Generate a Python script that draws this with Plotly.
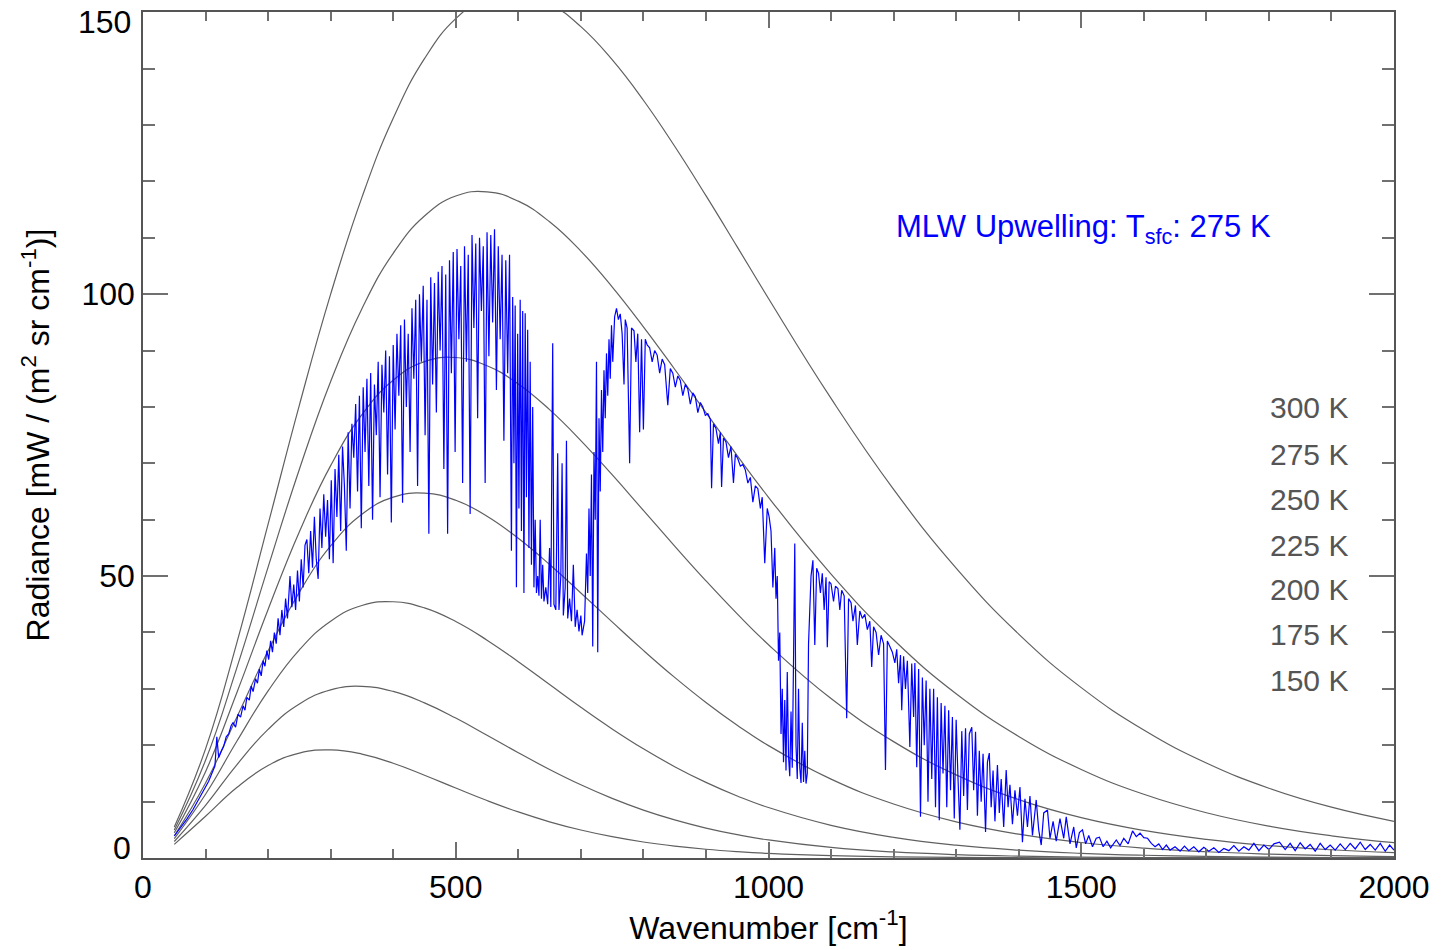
import plotly.graph_objects as go

# Blackbody (Planck) curves, mW / (m2 sr cm-1)
wn_bb = [50, 100, 150, 200, 250, 300, 350, 400, 450, 500, 550, 600, 650, 700, 750,
         800, 850, 900, 950, 1000, 1100, 1200, 1300, 1400, 1500, 1600, 1700, 1800, 1900, 2000]
bb300 = [5.49, 19.35, 38.17, 59.20, 80.33, 100.0, 117.18, 131.20, 141.77, 148.87, 152.65, 153.40,
         151.52, 147.45, 141.59, 134.40, 126.24, 117.47, 108.39, 99.24, 81.51, 65.38, 51.40, 39.71,
         30.22, 22.70, 16.85, 12.38, 9.01, 6.51]
bb275 = [4.98, 17.33, 33.72, 51.58, 68.96, 84.52, 97.43, 107.25, 113.86, 117.41, 118.16, 116.50,
         112.84, 107.64, 101.31, 94.21, 86.69, 79.00, 71.38, 63.98, 50.36, 38.70, 29.13, 21.56,
         15.71, 11.30, 8.03, 5.65, 3.94, 2.72]
bb250 = [4.47, 15.31, 29.32, 44.08, 57.87, 69.59, 78.62, 84.75, 88.04, 88.77, 87.31, 84.08,
         79.52, 74.04, 67.98, 61.66, 55.33, 49.16, 43.30, 37.83, 28.28, 20.64, 14.75, 10.36,
         7.16, 4.89, 3.30, 2.20, 1.46, 0.96]
bb225 = [3.95, 13.30, 24.97, 36.75, 47.16, 55.35, 60.97, 64.01, 64.71, 63.45, 60.63, 56.70,
         52.05, 47.01, 41.87, 36.82, 32.03, 27.58, 23.54, 19.93, 13.99, 9.58, 6.42, 4.23,
         2.75, 1.76, 1.11, 0.70, 0.43, 0.27]
bb200 = [3.44, 11.31, 20.70, 29.63, 36.92, 42.01, 44.79, 45.45, 44.36, 41.95, 38.64, 34.81,
         30.76, 26.73, 22.90, 19.37, 16.20, 13.41, 11.00, 8.95, 5.80, 3.67, 2.27, 1.38,
         0.83, 0.49, 0.29, 0.17, 0.09, 0.05]
bb175 = [2.93, 9.34, 16.53, 22.81, 27.32, 29.83, 30.45, 29.54, 27.52, 24.82, 21.77, 18.67,
         15.70, 12.98, 10.57, 8.50, 6.76, 5.31, 4.14, 3.20, 1.87, 1.07, 0.60, 0.33,
         0.18, 0.09, 0.05, 0.03, 0.01, 0.01]
bb150 = [2.42, 7.40, 12.50, 16.40, 18.61, 19.18, 18.43, 16.80, 14.68, 12.41, 10.19, 8.17,
         6.42, 4.96, 3.78, 2.84, 2.11, 1.55, 1.13, 0.81, 0.41, 0.21, 0.10, 0.05,
         0.02, 0.01, 0.005, 0.002, 0.001, 0.0004]

bb_labels = ["300 K", "275 K", "250 K", "225 K", "200 K", "175 K", "150 K"]

# MLW upwelling radiance spectrum (wavenumber, radiance)
blue_spectrum = [
    (50, 3.9), (60, 5.3), (70, 6.9), (80, 8.6), (90, 10.6), (100, 12.8), (105, 13.6), (110, 15.0),
    (115, 16.3), (118, 21.5), (121, 17.8), (125, 18.9), (129, 19.8), (133, 21.5), (137, 22.0), (141, 23.5),
    (144, 24.0), (148, 23.2), (152, 25.5), (156, 25.0), (160, 27.0), (163, 26.2), (166, 28.5), (170, 28.0),
    (173, 30.5), (176, 29.5), (180, 31.8), (183, 31.0), (186, 33.5), (189, 32.3), (192, 35.0), (195, 34.0),
    (198, 36.8), (201, 35.2), (204, 38.5), (207, 36.5), (210, 40.0), (213, 38.0), (216, 42.5), (219, 39.5),
    (222, 44.0), (225, 41.0), (228, 46.0), (231, 42.5), (235, 50.0), (238, 44.5), (241, 48.5), (244, 44.0),
    (247, 51.0), (250, 45.5), (253, 53.0), (256, 48.0), (259, 55.5), (262, 56.5), (265, 50.5), (268, 58.0),
    (271, 51.5), (274, 60.5), (277, 53.0), (280, 49.5), (283, 62.0), (286, 55.0), (289, 64.5), (292, 57.0),
    (295, 63.5), (298, 53.0), (301, 67.0), (304, 52.3), (307, 69.0), (310, 60.5), (313, 71.5), (316, 58.0),
    (319, 73.0), (322, 66.0), (325, 54.5), (328, 75.5), (331, 62.0), (334, 77.0), (337, 71.0), (340, 80.5),
    (343, 65.0), (346, 82.0), (349, 58.5), (352, 83.5), (355, 72.0), (358, 85.0), (361, 66.0), (364, 86.0),
    (367, 60.0), (370, 84.0), (373, 75.0), (376, 88.0), (379, 64.0), (382, 87.5), (385, 79.0), (388, 90.0),
    (391, 68.0), (394, 89.0), (397, 59.5), (400, 91.0), (403, 76.0), (406, 93.0), (409, 82.0), (412, 94.5),
    (415, 63.0), (418, 95.5), (421, 80.0), (424, 93.0), (427, 72.0), (430, 97.5), (433, 85.0), (436, 99.0),
    (439, 66.0), (442, 100.0), (445, 88.0), (448, 101.5), (451, 75.0), (454, 99.0), (457, 57.5), (460, 103.0),
    (463, 84.0), (466, 102.0), (469, 79.0), (472, 104.0), (475, 90.0), (478, 105.0), (481, 69.0), (484, 103.5),
    (487, 57.5), (490, 106.0), (493, 86.0), (496, 107.5), (499, 72.0), (502, 108.0), (505, 92.0), (508, 105.0),
    (511, 66.5), (514, 108.5), (517, 88.0), (520, 107.0), (523, 61.0), (526, 110.5), (529, 94.0), (532, 109.0),
    (535, 78.0), (538, 110.0), (541, 97.0), (544, 108.5), (547, 66.5), (550, 111.0), (553, 89.0), (556, 110.5),
    (559, 95.0), (562, 111.5), (565, 83.0), (568, 108.5), (571, 92.0), (574, 107.0), (577, 74.0), (580, 106.0),
    (583, 86.0), (586, 107.0), (589, 54.5), (591, 99.5), (593, 70.0), (595, 98.0), (597, 48.0), (599, 93.0),
    (601, 62.0), (603, 99.0), (605, 58.0), (607, 97.0), (609, 47.0), (611, 96.6), (613, 64.0), (615, 93.7),
    (617, 55.0), (619, 88.0), (621, 52.0), (623, 80.0), (625, 48.0), (627, 60.0), (629, 47.0), (631, 50.0),
    (633, 46.5), (635, 60.0), (637, 46.0), (639, 52.0), (641, 45.5), (644, 48.0), (647, 45.0), (650, 55.0),
    (652, 44.5), (655, 91.3), (657, 45.0), (660, 44.0), (663, 71.8), (665, 44.0), (668, 50.0), (670, 70.0),
    (672, 43.0), (675, 48.0), (677, 74.0), (679, 42.5), (682, 46.0), (685, 42.0), (688, 52.0), (691, 41.0),
    (694, 44.0), (697, 40.2), (700, 43.0), (702, 39.5), (704, 41.0), (706, 42.0), (709, 54.0), (711, 47.0),
    (713, 62.0), (715, 50.0), (717, 68.0), (719, 37.5), (721, 72.0), (723, 60.0), (725, 88.0), (727, 36.5),
    (729, 78.0), (731, 65.0), (733, 83.0), (735, 72.0), (737, 86.5), (739, 78.0), (741, 89.5), (743, 82.0),
    (745, 92.0), (747, 85.0), (749, 94.5), (751, 88.0), (754, 96.0), (757, 97.5), (760, 95.5), (763, 96.5),
    (766, 93.0), (769, 84.0), (771, 95.5), (774, 94.0), (778, 70.0), (781, 94.0), (785, 93.5), (788, 88.0),
    (791, 93.0), (794, 75.5), (797, 92.0), (800, 76.0), (803, 92.0), (806, 91.0), (810, 90.5), (814, 88.0),
    (818, 90.0), (822, 89.2), (826, 86.0), (830, 88.5), (834, 87.5), (839, 80.3), (843, 86.8), (847, 86.0),
    (851, 83.5), (855, 85.5), (859, 84.7), (863, 82.0), (867, 84.0), (871, 83.2), (875, 80.5), (879, 82.5),
    (883, 81.8), (887, 79.0), (891, 80.8), (895, 80.0), (899, 78.5), (903, 78.8), (907, 77.8), (909, 65.6),
    (912, 77.0), (916, 76.2), (920, 73.5), (923, 75.5), (925, 65.8), (928, 74.5), (932, 73.8), (936, 71.0),
    (940, 73.0), (944, 66.5), (947, 71.6), (951, 70.8), (955, 69.5), (959, 69.8), (963, 68.8), (967, 66.5),
    (971, 67.5), (975, 63.1), (979, 66.0), (983, 65.5), (987, 62.0), (990, 64.0), (994, 52.3), (998, 62.0),
    (1001, 60.5), (1004, 58.0), (1007, 48.0), (1010, 55.0), (1012, 46.0), (1014, 50.0), (1016, 35.0), (1018, 40.0),
    (1020, 22.0), (1022, 30.0), (1024, 17.0), (1026, 28.0), (1028, 15.5), (1030, 33.0), (1032, 18.0), (1034, 14.5),
    (1036, 26.0), (1038, 16.0), (1040, 35.0), (1042, 55.8), (1044, 20.0), (1046, 14.0), (1048, 30.0), (1050, 16.0),
    (1052, 13.3), (1054, 24.0), (1056, 13.5), (1058, 19.0), (1060, 13.2), (1062, 15.0), (1064, 38.0), (1066, 45.0),
    (1068, 50.0), (1071, 52.8), (1074, 37.8), (1077, 51.4), (1080, 50.5), (1083, 47.0), (1086, 50.5), (1089, 44.0),
    (1092, 49.8), (1094, 37.4), (1097, 49.0), (1100, 48.6), (1104, 45.5), (1107, 48.2), (1111, 47.8), (1114, 44.0),
    (1117, 47.5), (1121, 46.5), (1125, 24.8), (1128, 46.0), (1132, 45.3), (1135, 42.0), (1139, 44.8), (1142, 37.8),
    (1146, 43.8), (1150, 42.5), (1154, 43.2), (1158, 40.5), (1162, 42.0), (1165, 33.9), (1168, 41.0), (1172, 40.0),
    (1176, 36.0), (1180, 39.5), (1184, 38.0), (1187, 15.6), (1190, 38.5), (1194, 37.5), (1198, 36.5), (1202, 34.6),
    (1205, 37.0), (1208, 31.0), (1211, 36.0), (1213, 26.2), (1216, 35.8), (1219, 30.0), (1222, 35.0), (1226, 19.7),
    (1229, 34.5), (1232, 25.0), (1234, 34.6), (1237, 16.1), (1240, 33.5), (1243, 7.3), (1246, 32.0), (1249, 20.0),
    (1252, 31.5), (1255, 10.0), (1258, 30.0), (1261, 14.0), (1264, 30.0), (1267, 9.0), (1270, 28.5), (1273, 6.7),
    (1276, 27.5), (1279, 15.0), (1282, 27.0), (1285, 9.0), (1288, 26.2), (1291, 12.0), (1294, 25.0), (1297, 7.0),
    (1300, 24.5), (1303, 14.0), (1306, 5.0), (1309, 22.5), (1312, 11.0), (1315, 23.0), (1318, 8.5), (1321, 22.0),
    (1325, 23.2), (1328, 12.0), (1331, 22.4), (1334, 7.5), (1337, 19.0), (1340, 10.0), (1343, 18.5), (1347, 4.6),
    (1350, 17.0), (1353, 18.6), (1356, 9.0), (1359, 15.5), (1362, 6.5), (1366, 16.5), (1369, 8.0), (1372, 14.0),
    (1376, 5.5), (1380, 15.6), (1383, 9.0), (1386, 13.0), (1390, 6.0), (1394, 12.0), (1398, 7.5), (1402, 12.6),
    (1406, 2.8), (1410, 10.5), (1414, 5.5), (1418, 11.0), (1422, 4.0), (1428, 10.3), (1432, 5.0), (1436, 2.3),
    (1440, 8.0), (1446, 8.5), (1450, 3.5), (1455, 6.5), (1460, 3.0), (1466, 7.0), (1472, 3.5), (1476, 7.3),
    (1482, 2.5), (1488, 5.5), (1492, 1.8), (1497, 4.5), (1502, 5.0), (1507, 2.5), (1512, 4.0), (1518, 2.0),
    (1524, 3.5), (1529, 3.7), (1535, 2.0), (1541, 3.0), (1547, 1.8), (1556, 3.2), (1562, 2.2), (1568, 3.5),
    (1575, 2.5), (1582, 4.8), (1588, 3.8), (1594, 4.4), (1600, 3.6), (1606, 3.5), (1612, 2.6), (1618, 2.0),
    (1624, 2.5), (1630, 1.5), (1636, 2.3), (1642, 1.4), (1650, 2.0), (1658, 1.2), (1665, 2.1), (1672, 1.3),
    (1680, 2.0), (1688, 1.1), (1696, 1.9), (1704, 1.2), (1712, 1.8), (1720, 1.0), (1728, 1.7), (1736, 1.3),
    (1744, 2.2), (1752, 1.2), (1760, 2.0), (1768, 1.4), (1776, 2.6), (1784, 1.3), (1792, 2.3), (1800, 1.5),
    (1808, 2.5), (1817, 2.8), (1826, 1.5), (1834, 2.6), (1842, 1.3), (1850, 2.7), (1858, 1.6), (1866, 2.4),
    (1874, 1.2), (1882, 2.6), (1890, 1.5), (1898, 2.3), (1906, 1.4), (1914, 2.5), (1922, 1.5), (1930, 2.6),
    (1938, 1.6), (1946, 2.8), (1954, 1.5), (1962, 2.4), (1970, 1.4), (1978, 2.6), (1986, 1.2), (1993, 2.3),
    (2000, 1.4),
]

x_ticks = [0, 500, 1000, 1500, 2000]
y_ticks = [0, 50, 100, 150]
y_ticktext = ["", "50", "100", ""]     # end labels drawn separately, nudged inward as in the reference
y_end_labels = [("0", 0.0118), ("150", 0.988)]

FONT = "Liberation Sans, Arial, Helvetica, sans-serif"
GRAY = "#555555"

fig = go.Figure()

for series in [bb300, bb275, bb250, bb225, bb200, bb175, bb150]:
    fig.add_trace(go.Scatter(
        x=wn_bb, y=series, mode="lines",
        line=dict(color="#606060", width=1.2, shape="spline", smoothing=1.3),
        hoverinfo="skip", showlegend=False, cliponaxis=True,
    ))

fig.add_trace(go.Scatter(
    x=[p[0] for p in blue_spectrum], y=[p[1] for p in blue_spectrum], mode="lines",
    line=dict(color="#0000ff", width=1.2), showlegend=False,
))

# Temperature labels
label_y = [0.532, 0.4775, 0.4232, 0.3688, 0.3168, 0.2636, 0.2104]
for txt, yy in zip(bb_labels, label_y):
    fig.add_annotation(x=0.899, y=yy, xref="paper", yref="paper", text=txt,
                       showarrow=False, xanchor="left", yanchor="middle",
                       font=dict(family=FONT, size=30, color=GRAY))

for txt, yy in y_end_labels:
    fig.add_annotation(x=-0.008, y=yy, xref="paper", yref="paper", text=txt,
                       showarrow=False, xanchor="right", yanchor="middle",
                       font=dict(family=FONT, size=32, color="black"))

fig.add_annotation(x=0.6006, y=0.7435, xref="paper", yref="paper",
                   text="MLW Upwelling: T<sub>sfc</sub>: 275 K",
                   showarrow=False, xanchor="left", yanchor="middle",
                   font=dict(family=FONT, size=31, color="#0000ff"))

axis_common = dict(
    showline=True, linecolor=GRAY, linewidth=1.5, mirror="ticks",
    showgrid=False, zeroline=False, ticks="inside", tickcolor="#707070", tickwidth=1.5,
    tickfont=dict(family=FONT, size=32, color="black"),
)

fig.update_layout(
    width=1447, height=950,
    margin=dict(l=143, r=53, t=12, b=92, autoexpand=False),
    paper_bgcolor="white", plot_bgcolor="white",
    font=dict(family=FONT, color="black"),
    xaxis=dict(
        range=[0, 2000], tickvals=x_ticks, ticklen=16,
        minor=dict(dtick=100, ticklen=9, ticks="inside", tickcolor="#707070", tickwidth=1.5, showgrid=False),
        title=dict(text="Wavenumber [cm<sup>-1</sup>]", font=dict(family=FONT, size=32), standoff=2),
        **axis_common,
    ),
    yaxis=dict(
        range=[0, 150.05], tickvals=y_ticks, ticktext=y_ticktext, ticklen=25,
        minor=dict(dtick=10, ticklen=12, ticks="inside", tickcolor="#707070", tickwidth=1.5, showgrid=False),
        title=dict(text="Radiance [mW / (m<sup>2</sup> sr cm<sup>-1</sup>)]", font=dict(family=FONT, size=32), standoff=22),
        **axis_common,
    ),
)

fig.write_html("out.html")
